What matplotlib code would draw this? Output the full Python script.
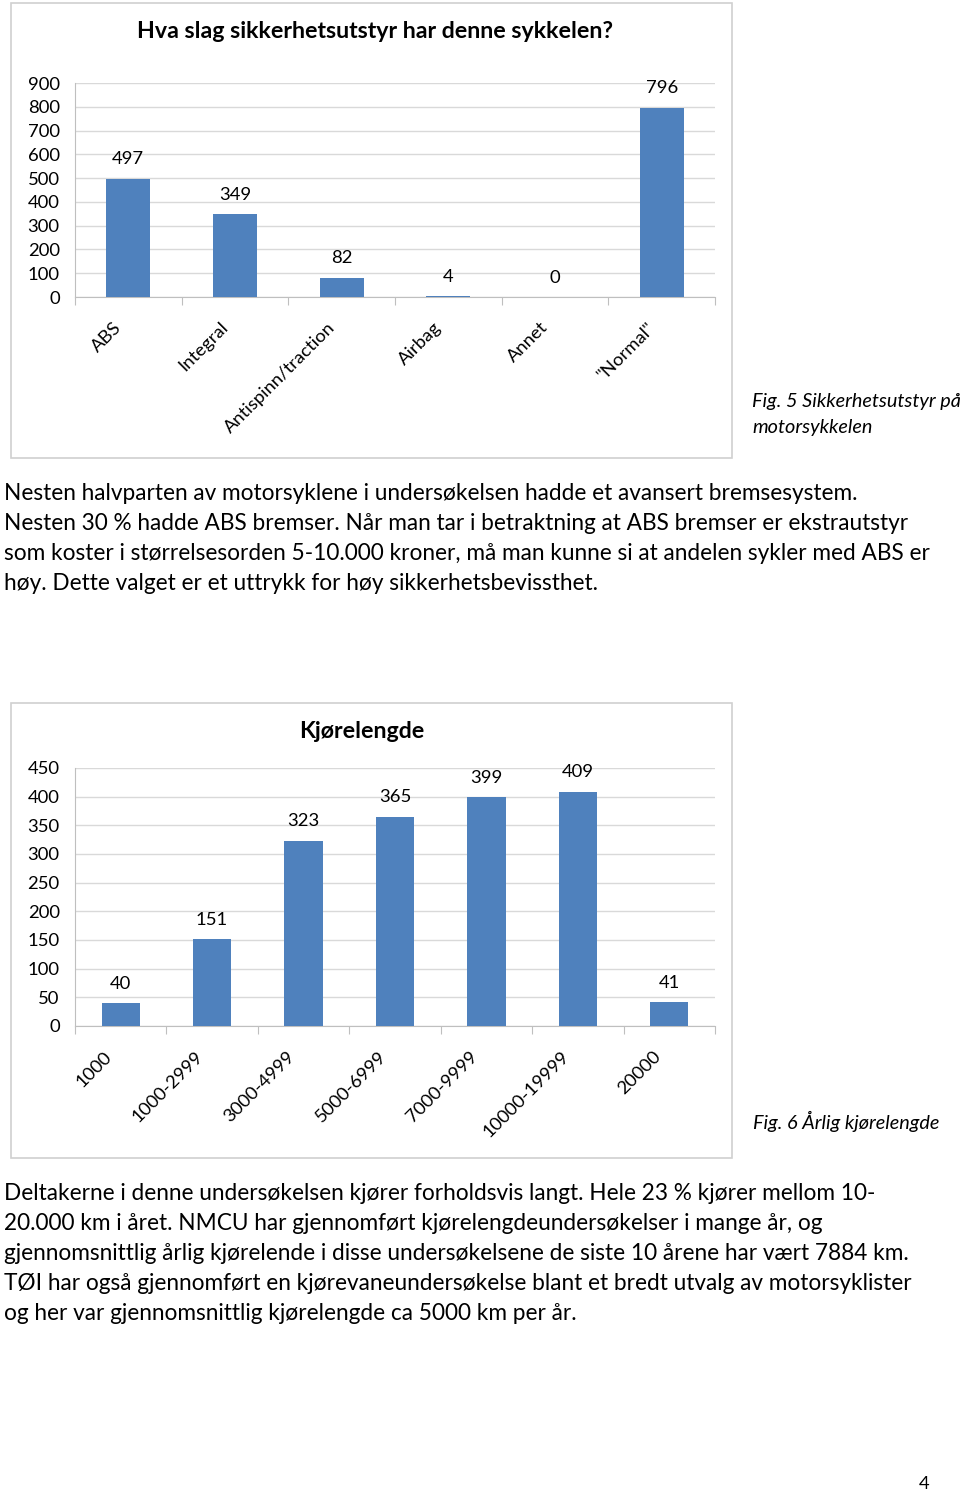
import matplotlib
matplotlib.use("Agg")
import matplotlib.pyplot as plt
from matplotlib.patches import Rectangle
from matplotlib.transforms import ScaledTranslation

plt.rcParams['font.family'] = ['Lato', 'DejaVu Sans']

# ---- data ----
equip_categories = ["ABS", "Integral", "Antispinn/traction", "Airbag", "Annet", '"Normal"']
equip_values = [497, 349, 82, 4, 0, 796]
equip_yticks = [0, 100, 200, 300, 400, 500, 600, 700, 800, 900]

dist_categories = ["1000", "1000-2999", "3000-4999", "5000-6999", "7000-9999", "10000-19999", "20000"]
dist_values = [40, 151, 323, 365, 399, 409, 41]
dist_yticks = [0, 50, 100, 150, 200, 250, 300, 350, 400, 450]

title1 = "Hva slag sikkerhetsutstyr har denne sykkelen?"
title2 = "Kjørelengde"
caption1 = ["Fig. 5 Sikkerhetsutstyr på", "motorsykkelen"]
caption2 = "Fig. 6 Årlig kjørelengde"
para1 = [
    "Nesten halvparten av motorsyklene i undersøkelsen hadde et avansert bremsesystem.",
    "Nesten 30 % hadde ABS bremser. Når man tar i betraktning at ABS bremser er ekstrautstyr",
    "som koster i størrelsesorden 5-10.000 kroner, må man kunne si at andelen sykler med ABS er",
    "høy. Dette valget er et uttrykk for høy sikkerhetsbevissthet.",
]
para2 = [
    "Deltakerne i denne undersøkelsen kjører forholdsvis langt. Hele 23 % kjører mellom 10-",
    "20.000 km i året. NMCU har gjennomført kjørelengdeundersøkelser i mange år, og",
    "gjennomsnittlig årlig kjørelende i disse undersøkelsene de siste 10 årene har vært 7884 km.",
    "TØI har også gjennomført en kjørevaneundersøkelse blant et bredt utvalg av motorsyklister",
    "og her var gjennomsnittlig kjørelengde ca 5000 km per år.",
]
page_number = "4"

W, H = 960, 1493
fig = plt.figure(figsize=(W / 100, H / 100), dpi=100)
fig.patch.set_facecolor("white")

BAR = "#4f81bd"
GRID = "#d9d9d9"
AXC = "#bfbfbf"
TXT = "#000000"
BODY_FS = 16.3


def fx(px):
    return px / W


def fy(py):
    return 1 - py / H


def frame(x0, y0, x1, y1):
    fig.patches.append(Rectangle((fx(x0), fy(y1)), fx(x1) - fx(x0), fy(y0) - fy(y1),
                                 transform=fig.transFigure, fill=False,
                                 edgecolor="#d0d0d0", linewidth=1.2))


def bar_chart(ax, cats, vals, yticks, width, shift_px):
    n = len(cats)
    x = list(range(n))
    ax.bar(x, vals, width=width, color=BAR, zorder=3)
    ax.set_xlim(-0.5, n - 0.5)
    ax.set_ylim(yticks[0], yticks[-1])
    ax.set_yticks(yticks)
    ax.set_yticklabels([str(t) for t in yticks], fontsize=13.3)
    ax.yaxis.grid(True, color=GRID, linewidth=1, zorder=0)
    ax.tick_params(axis="y", length=0, pad=11)
    for s in ["top", "right"]:
        ax.spines[s].set_visible(False)
    ax.spines["left"].set_color(AXC)
    ax.spines["bottom"].set_color(AXC)
    ax.set_xticks([i - 0.5 for i in range(n + 1)], minor=False)
    ax.set_xticklabels([""] * (n + 1))
    ax.tick_params(axis="x", which="major", length=6, color=AXC, direction="out")
    ax.set_xticks(x, minor=True)
    labels = ax.set_xticklabels(cats, minor=True, rotation=45, ha="right",
                                rotation_mode="anchor", fontsize=13.3)
    ax.tick_params(axis="x", which="minor", length=0, pad=16)
    off = ScaledTranslation(shift_px / 100, 0, fig.dpi_scale_trans)
    for lab in ax.get_xticklabels(minor=True):
        lab.set_transform(lab.get_transform() + off)
    for xi, v in zip(x, vals):
        ax.annotate(str(v), (xi, v), xytext=(0, 14), textcoords="offset points",
                    ha="center", va="center", fontsize=13.3, color=TXT)


# Chart 1
frame(11, 3, 732, 458)
fig.text(fx(375), fy(31), title1, ha="center", va="center", fontsize=16.7, fontweight="bold")
ax1 = fig.add_axes([fx(75), fy(297), fx(715) - fx(75), fy(83) - fy(297)])
bar_chart(ax1, equip_categories, equip_values, equip_yticks, 0.41, -15)
fig.text(fx(752), fy(401), caption1[0], ha="left", va="center", fontsize=14.3, style="italic")
fig.text(fx(752), fy(427), caption1[1], ha="left", va="center", fontsize=14.3, style="italic")

for i, line in enumerate(para1):
    fig.text(fx(4), fy(494 + 30 * i), line, ha="left", va="center", fontsize=BODY_FS)

# Chart 2
frame(11, 703, 732, 1158)
fig.text(fx(362), fy(731), title2, ha="center", va="center", fontsize=16.7, fontweight="bold")
ax2 = fig.add_axes([fx(75), fy(1026), fx(715) - fx(75), fy(768) - fy(1026)])
bar_chart(ax2, dist_categories, dist_values, dist_yticks, 0.42, -17)
fig.text(fx(753), fy(1121), caption2, ha="left", va="center", fontsize=14.3, style="italic")

for i, line in enumerate(para2):
    fig.text(fx(4), fy(1194 + 30 * i), line, ha="left", va="center", fontsize=BODY_FS)

fig.text(fx(924), fy(1484), page_number, ha="center", va="center", fontsize=13.3)

fig.savefig("out.png", dpi=100)
